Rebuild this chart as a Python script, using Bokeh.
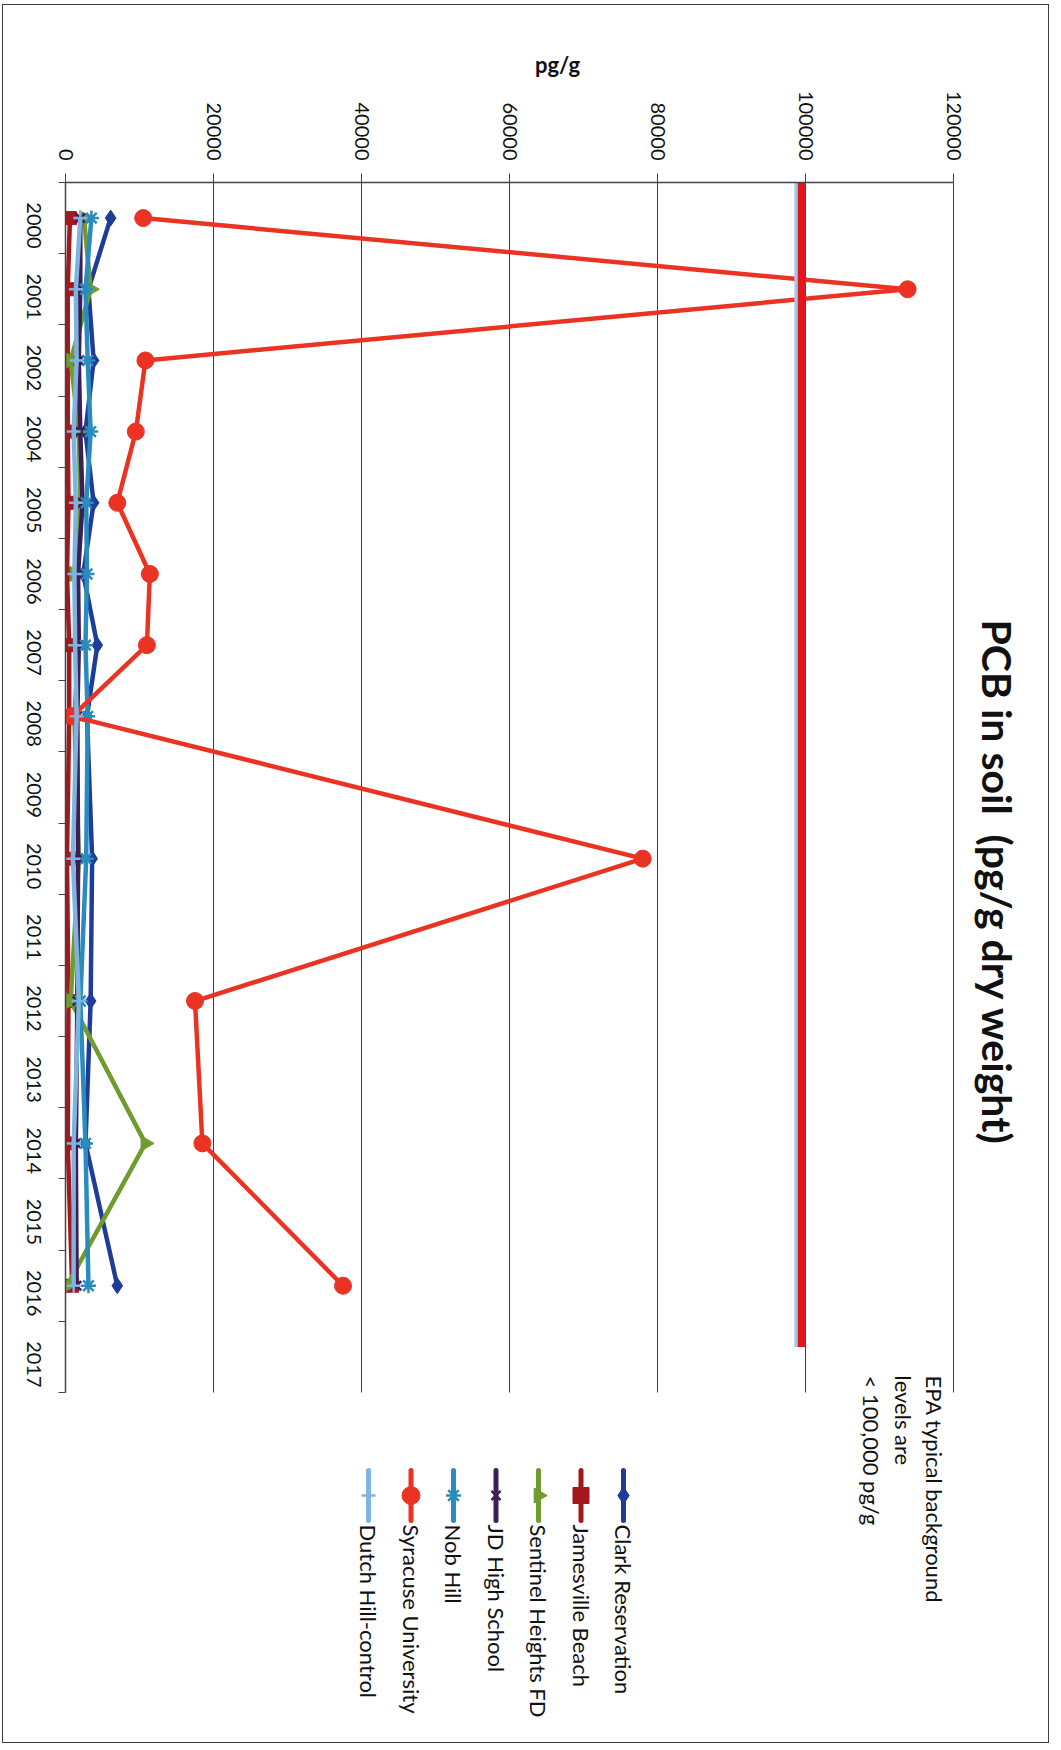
import math
from bokeh.plotting import figure
from bokeh.models import (Range1d, LinearAxis, FixedTicker, NumeralTickFormatter,
                          Label, LinearScale)
from bokeh.embed import file_html
from bokeh.resources import INLINE

# ---------------- data ----------------
years = ["2000", "2001", "2002", "2004", "2005", "2006", "2007", "2008", "2009",
         "2010", "2011", "2012", "2013", "2014", "2015", "2016", "2017"]
sample_years = ["2000", "2001", "2002", "2004", "2005", "2006", "2007", "2008",
                "2010", "2012", "2014", "2016"]

clark_reservation = [6100, 3100, 3800, 2700, 3800, 2400, 4300, 2900, 3600, 3400, 2700, 7000]
jamesville_beach = [600, 300, 300, 300, 400, 200, 500, 500, 200, 400, 300, 900]
sentinel_heights = [2500, 3400, 700, 1800, 2000, 1200, 1800, 1200, 1800, 700, 10800, 200]
jd_high_school = [2000, 2000, 1800, 2000, 2300, 1700, 1800, 1600, 1700, 1600, 1400, 1500]
nob_hill = [3500, 2700, 3000, 3400, 2800, 2900, 2700, 3000, 2800, 2000, 2700, 3100]
syracuse_university = [10500, 113800, 10800, 9500, 7000, 11400, 11000, 900, 78000, 17500, 18500, 37500]
dutch_hill_control = [2000, 1400, 1500, 1100, 1400, 1200, 1300, 1500, 1000, 1800, 1100, 1100]

series_names = ["Clark Reservation", "Jamesville Beach", "Sentinel Heights FD",
                "JD High School", "Nob Hill", "Syracuse University", "Dutch Hill-control"]
series_values = [clark_reservation, jamesville_beach, sentinel_heights, jd_high_school,
                 nob_hill, syracuse_university, dutch_hill_control]

value_ticks = [0, 20000, 40000, 60000, 80000, 100000, 120000]
value_max = 120000
epa_red_level = 99500
epa_blue_level = 98900

title_text = "PCB in soil\u00a0 (pg/g dry weight)"
axis_title = "pg/g"
epa_note = ["EPA typical background", "levels are", "< 100,000 pg/g"]

# ---------------- styles / geometry ----------------
colors = ["#1f3c98", "#a4171c", "#6f9b2f", "#3d1f57", "#2a8cbd", "#ea3323", "#80b4e0"]
markers = ["diamond", "square", "triangle", "x", "asterisk", "circle", "cross"]
sizes = [16, 13, 15, 13, 15, 17, 14]
leg_sizes = [17, 16, 15, 13, 15, 18, 14]
angles = [0, 0, -math.pi / 2, 0, 0, 0, 0]

FONT = "Lato"
INK = "#444444"

# page geometry (pixels): canvas origin, plot area of the category/value grid
ORIG_X, ORIG_Y = 3, 5
W, H = 1047, 1739
GRID_L, GRID_R, GRID_T, GRID_B = 65, 953, 182, 1392
FRAME_R = ORIG_X + W - 1
FRAME_B = ORIG_Y + H - 1

n_slots = len(years)
x_end = value_max * (FRAME_R - GRID_L) / (GRID_R - GRID_L)
y_end = n_slots * (FRAME_B - GRID_T) / (GRID_B - GRID_T)

slot = {y: i + 0.5 for i, y in enumerate(years)}
y_pos = [slot[y] for y in sample_years]

p = figure(width=W, height=H,
           x_range=Range1d(0, x_end), y_range=Range1d(y_end, 0),
           x_axis_location="above", y_axis_location=None,
           output_backend="svg", toolbar_location=None,
           min_border_left=GRID_L - ORIG_X, min_border_right=1,
           min_border_top=GRID_T - ORIG_Y, min_border_bottom=1,
           background_fill_color="white", border_fill_color="white",
           outline_line_color=None,
           styles={"border": "1px solid #3c3c3c", "margin-left": "2px", "margin-top": "4px"})

# page-pixel helper ranges for annotations
p.extra_x_ranges = {"px": Range1d(GRID_L, FRAME_R)}
p.extra_x_scales = {"px": LinearScale()}
p.extra_y_ranges = {"py": Range1d(FRAME_B, GRID_T)}
p.extra_y_scales = {"py": LinearScale()}

# value axis on top
xa = p.xaxis[0]
xa.bounds = (0, value_max)
xa.ticker = FixedTicker(ticks=value_ticks)
xa.formatter = NumeralTickFormatter(format="0")
xa.major_label_orientation = -math.pi / 2
xa.major_label_text_font = FONT
xa.major_label_text_font_size = "20px"
xa.major_label_text_color = "#111111"
xa.major_tick_out = 9
xa.major_tick_in = 0
xa.minor_tick_out = 0
xa.minor_tick_in = 0
xa.axis_line_color = INK
xa.axis_line_width = 1.5
xa.major_tick_line_color = INK
xa.major_label_standoff = 13
xa.axis_label = axis_title
xa.axis_label_text_font = FONT
xa.axis_label_text_font_style = "bold"
xa.axis_label_text_font_size = "22px"
xa.axis_label_text_color = "#111111"
xa.axis_label_standoff = 10

p.xgrid.grid_line_color = None
p.ygrid.grid_line_color = None

# value grid lines, limited to the category extent
p.segment(x0=value_ticks, y0=[0] * len(value_ticks), x1=value_ticks,
          y1=[n_slots] * len(value_ticks), line_color="#3a3a3a", line_width=1)

# category axis: boundary ticks nearest the frame, then the year labels
tick_axis = LinearAxis(ticker=FixedTicker(ticks=list(range(n_slots + 1))), bounds=(0, n_slots),
                       major_label_text_font_size="0px", major_label_text_color=None,
                       major_label_standoff=0,
                       major_tick_out=7, major_tick_in=0, minor_tick_out=0, minor_tick_in=0,
                       axis_line_color=INK, axis_line_width=1.5, major_tick_line_color=INK)
p.add_layout(tick_axis, "left")
label_shift = 0.43  # rotated labels are end-anchored: move anchor so text centres on slot
label_axis = LinearAxis(ticker=FixedTicker(ticks=[slot[y] + label_shift for y in years]),
                        major_label_overrides={slot[y] + label_shift: y for y in years},
                        major_tick_out=0, major_tick_in=0, minor_tick_out=0, minor_tick_in=0,
                        major_tick_line_color=None, axis_line_color=None,
                        major_label_orientation=-math.pi / 2, major_label_standoff=25,
                        major_label_text_font=FONT, major_label_text_font_size="20px",
                        major_label_text_color="#111111")
p.add_layout(label_axis, "left")

# series
for vals, c, m, s, a in zip(series_values, colors, markers, sizes, angles):
    p.line(x=vals, y=y_pos, line_color=c, line_width=4.5, line_join="round")
    lw = 2.5 if m in ("x", "asterisk", "cross") else 1
    p.scatter(x=vals, y=y_pos, marker=m, size=s, angle=a,
              fill_color=c, line_color=c, line_width=lw)

# EPA reference band
epa_y = [slot["2000"] - 0.6, slot["2017"] - 0.14]
p.line(x=[epa_blue_level, epa_blue_level], y=epa_y, line_color="#9ccbea", line_width=6)
p.line(x=[epa_red_level, epa_red_level], y=epa_y, line_color="#e2141c", line_width=8)

# title
p.add_layout(Label(x=997, y=882, x_range_name="px", y_range_name="py", text=title_text,
                   angle=-math.pi / 2, text_align="center", text_baseline="middle",
                   text_font=FONT, text_font_style="bold", text_font_size="41px",
                   text_color="#111111"))

# EPA note
for i, line in enumerate(epa_note):
    p.add_layout(Label(x=934 - 31.5 * i, y=1375, x_range_name="px", y_range_name="py",
                       text=line, angle=-math.pi / 2, text_align="left",
                       text_baseline="middle", text_font=FONT, text_font_size="22px",
                       text_color="#111111"))

# legend (rotated): key line + marker + name
leg_top = 1470
leg_x = [623 - 42.5 * i for i in range(len(series_names))]
p.segment(x0=leg_x, y0=[leg_top] * len(leg_x), x1=leg_x, y1=[leg_top + 50] * len(leg_x),
          x_range_name="px", y_range_name="py", line_color=colors, line_width=5,
          line_cap="round")
for lx, c, m, s, a in zip(leg_x, colors, markers, leg_sizes, angles):
    lw = 2.5 if m in ("x", "asterisk", "cross") else 1
    p.scatter(x=[lx], y=[leg_top + 25], x_range_name="px", y_range_name="py", marker=m,
              size=s, angle=a, fill_color=c, line_color=c, line_width=lw)
for lx, name in zip(leg_x, series_names):
    p.add_layout(Label(x=lx, y=leg_top + 54, x_range_name="px", y_range_name="py", text=name,
                       angle=-math.pi / 2, text_align="left", text_baseline="middle",
                       text_font=FONT, text_font_size="22px", text_color="#111111"))

open("out.html", "w").write(file_html(p, INLINE))
